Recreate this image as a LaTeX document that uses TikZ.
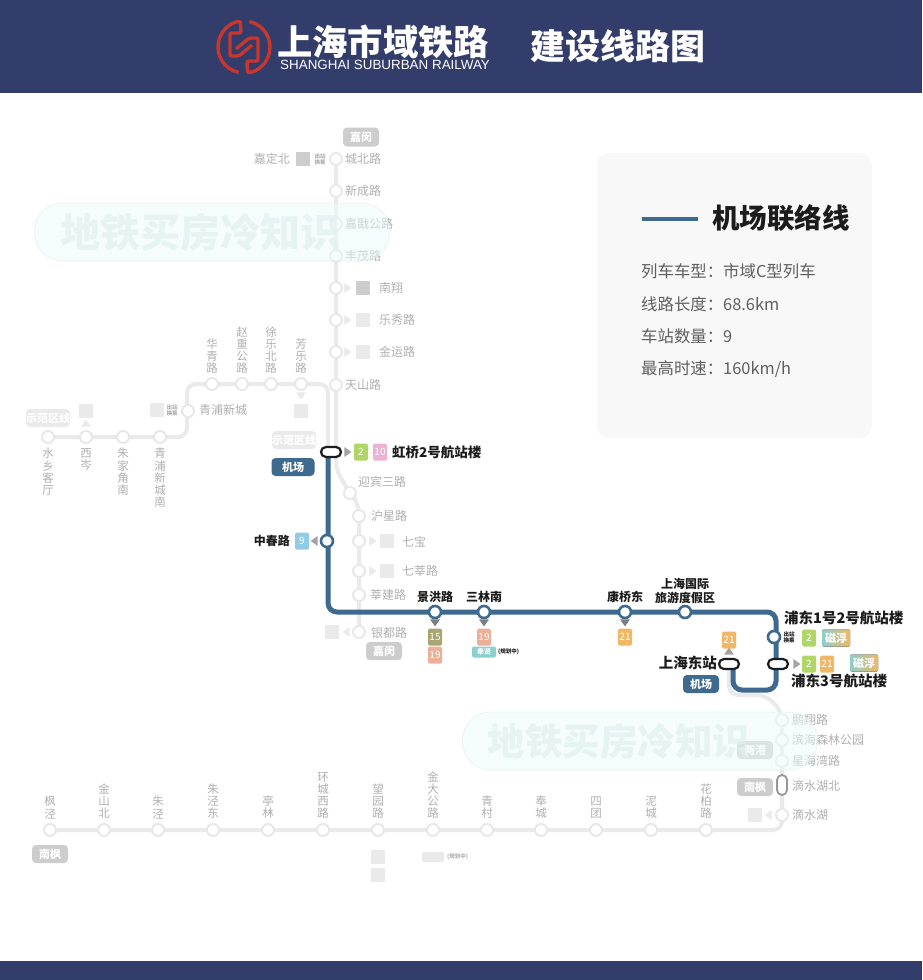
\documentclass[tikz,border=0pt]{standalone}
\usepackage{fontspec}
\setmainfont{Noto Sans CJK SC}
\newfontfamily\latinfont{Liberation Sans}
\usetikzlibrary{arrows.meta,positioning,backgrounds,calc,shapes.geometric}
\definecolor{headernavy}{RGB}{51,61,107}
\definecolor{logored}{RGB}{200,54,46}
\definecolor{airportblue}{RGB}{63,106,144}
\definecolor{railgrey}{RGB}{234,234,234}
\definecolor{ringgrey}{RGB}{232,232,232}
\definecolor{fadedtext}{RGB}{176,176,176}
\definecolor{chipgrey}{RGB}{205,205,205}
\definecolor{chiplight}{RGB}{234,234,234}
\definecolor{panelgrey}{RGB}{248,248,249}
\definecolor{darktext}{RGB}{28,28,28}
\definecolor{infotext}{RGB}{95,95,95}
\definecolor{arrowgrey}{RGB}{125,125,125}
\definecolor{lineii}{RGB}{176,214,104}
\definecolor{linex}{RGB}{236,178,212}
\definecolor{lineix}{RGB}{144,204,232}
\definecolor{linexv}{RGB}{168,166,112}
\definecolor{linexix}{RGB}{236,176,152}
\definecolor{linexxi}{RGB}{240,184,100}
\definecolor{maglevteal}{RGB}{140,208,204}
\definecolor{watercyan}{RGB}{236,250,250}
\definecolor{watertext}{RGB}{226,240,240}
\newcommand{\fsz}[2]{\fontsize{#1}{#2}\selectfont}
\tikzset{
  greyline/.style={line width=4pt, draw=railgrey, rounded corners=9pt},
  blueline/.style={line width=5pt, draw=airportblue, rounded corners=9pt},
  gst/.style={circle, draw=ringgrey, fill=white, line width=2pt, minimum size=12pt, inner sep=0pt},
  bst/.style={circle, draw=airportblue, fill=white, line width=2.6pt, minimum size=12pt, inner sep=0pt},
  pill/.style={rectangle, rounded corners=5pt, draw=darktext, fill=white, line width=2.2pt, minimum width=20pt, minimum height=10pt, inner sep=0pt},
  glab/.style={font=\fsz{12}{14}, text=fadedtext, inner sep=0pt},
  vlab/.style={glab, font=\fsz{11.5}{12.2}, align=center},
  blab/.style={font=\bfseries\fsz{12}{14}, text=darktext, inner sep=0pt, align=center},
  tlab/.style={font=\bfseries\fsz{14.5}{16}, text=darktext, inner sep=0pt},
  chip/.style={rectangle, rounded corners=1.5pt, fill=#1, minimum width=14pt, minimum height=17pt, inner sep=0pt, text=white, font=\fsz{10}{10}},
  sq/.style={rectangle, fill=#1, minimum width=14pt, minimum height=14pt, inner sep=0pt},
  tag/.style={rectangle, rounded corners=4pt, fill=#1, minimum width=36pt, minimum height=18pt, inner sep=0pt, text=white, font=\bfseries\fsz{11}{11}},
  tiny/.style={font=\bfseries\fsz{5.5}{6}, text=#1, inner sep=0pt, align=center},
  tri/.style={isosceles triangle, isosceles triangle apex angle=70, minimum size=7pt, inner sep=0pt, fill=chiplight, shape border rotate=#1},
  trid/.style={tri=#1, fill=arrowgrey},
  infotxt/.style={font=\fsz{16.4}{18}, text=infotext, inner sep=0pt, anchor=west},
  water/.style={rectangle, rounded corners=28pt, draw=railgrey, fill=watercyan, line width=1pt, minimum width=355pt, minimum height=58pt, opacity=0.5},
  watertxt/.style={inner sep=0pt, text=watertext, text opacity=0.75, font=\bfseries\fsz{#1}{#1}},
}
\begin{document}
\begin{tikzpicture}[x=1pt,y=-1pt]
  \useasboundingbox (0,0) rectangle (922,980);
  % header and footer bands
  \fill[headernavy] (0,0) rectangle (922,93);
  \fill[headernavy] (0,961) rectangle (922,980);
  % logo
  \begin{scope}[shift={(244,47)}]
    \foreach \r in {0,180}{
      \begin{scope}[rotate=\r]
        \draw[logored,line width=3.4pt,rounded corners=2pt] (102:26) arc[start angle=102,end angle=262,radius=26] -- (-3,-14) -- (-14,-14) -- (-14,9) -- (-5,9) -- (8,-2);
      \end{scope}
    }
  \end{scope}
  \node[anchor=west,inner sep=0pt,text=white,font=\bfseries\fsz{35.3}{36}] (titlecn) at (277,42) {上海市域铁路};
  \node[anchor=west,inner sep=0pt,text=white,font=\latinfont\fsz{13.4}{14}] (titleen) at (280,65) {SHANGHAI SUBURBAN RAILWAY};
  \node[anchor=west,inner sep=0pt,text=white,font=\bfseries\fsz{35}{35}] (titlemap) at (530,46) {建设线路图};
  % info panel
  \fill[panelgrey,rounded corners=12pt] (597,153) rectangle (872,438);
  \coordinate (legA) at (642,219);
  \coordinate (legB) at (698,219);
  \draw[airportblue,line width=4.5pt] (legA) -- (legB);
  \node[anchor=west,inner sep=0pt,text=darktext,font=\bfseries\fsz{27.5}{28}] (legname) at (712,218) {机场联络线};
  \node[infotxt] (info1) at (641,271) {列车车型：市域C型列车};
  \node[infotxt] (info2) at (641,304) {线路长度：68.6km};
  \node[infotxt] (info3) at (641,336) {车站数量：9};
  \node[infotxt] (info4) at (641,369) {最高时速：160km/h};
  % north trunk
  \foreach \i/\yy/\txt in {1/159/城北路,2/191/新成路,3/224/嘉戬公路,4/256/丰茂路,8/385/天山路}{
    \node[gst] (tr\i) at (336,\yy) {};
    \node[glab,anchor=west] (trl\i) at (345,\yy) {\txt};
  }
  \foreach \i/\yy/\txt/\ln in {5/288/南翔/chipgrey,6/320/乐秀路/railgrey,7/352/金运路/chiplight}{
    \node[gst] (tr\i) at (336,\yy) {};
    \node[tri=0] (trt\i) at (347,\yy) {};
    \node[sq=\ln] (trs\i) at (363,\yy) {};
    \node[glab,anchor=west] (trl\i) at (379,\yy) {\txt};
  }
  \node[tag=chipgrey,minimum height=19pt] (jmtop) at (361,137) {嘉闵};
  \node[glab,anchor=east] (jdn) at (290,159) {嘉定北};
  \node[sq=chipgrey] (jdns) at (303,159) {};
  \node[tiny=fadedtext] (jdnt) at (320,159) {出站\\换乘};
  % south part of the trunk
  \node[gst] (ybs) at (350,493) {};
  \node[glab,anchor=west] at (358,482) {迎宾三路};
  \node[gst] (hx) at (359,516) {};
  \node[glab,anchor=west] at (371,516) {沪星路};
  \node[gst] (qb) at (359,541) {};
  \node[tri=0] at (372,541) {};
  \node[sq=chiplight] at (387,541) {};
  \node[glab,anchor=west] at (402,542) {七宝};
  \node[gst] (qx) at (359,571) {};
  \node[tri=0] at (372,571) {};
  \node[sq=chiplight] at (387,571) {};
  \node[glab,anchor=west] at (402,571) {七莘路};
  \node[gst] (xj) at (359,595) {};
  \node[glab,anchor=west] at (370,595) {莘建路};
  \node[gst] (yd) at (359,632) {};
  \node[tri=180] at (347,632) {};
  \node[sq=chiplight] at (332,632) {};
  \node[glab,anchor=west] at (371,633) {银都路};
  \node[tag=chipgrey] (jmbot) at (384,651) {嘉闵};
  % west branch
  \foreach \i/\xx/\txt in {1/48/水\\乡\\客\\厅,2/86/西\\岑,3/123/朱\\家\\角\\南,4/160/青\\浦\\新\\城\\南}{
    \node[gst] (wb\i) at (\xx,437) {};
    \node[vlab,anchor=north] (wbl\i) at (\xx,448) {\txt};
  }
  \foreach \i/\xx/\txt in {5/212/华\\青\\路,6/242/赵\\重\\公\\路,7/271/徐\\乐\\北\\路,8/301/芳\\乐\\路}{
    \node[gst] (wb\i) at (\xx,384) {};
    \node[vlab,anchor=south] (wbl\i) at (\xx,374) {\txt};
  }
  \node[gst] (qpxc) at (188,411) {};
  \node[glab,anchor=west] at (199,410) {青浦新城};
  \node[sq=chiplight] at (157,410) {};
  \node[tiny=fadedtext] at (172,410) {出站\\换乘};
  \node[tag=chiplight,minimum width=44pt] (sfq) at (48,418) {示范区线};
  \node[sq=chiplight] at (86,411) {};
  \node[tri=90] at (86,424) {};
  \node[tri=-90] at (301,395) {};
  \node[sq=chiplight] at (301,411) {};
  \node[tag=chiplight,minimum width=44pt] (sfq2) at (294,440) {示范区线};
  % south branch
  \foreach \i/\xx/\txt in {1/50/枫\\泾,2/104/金\\山\\北,3/158/朱\\泾,4/213/朱\\泾\\东,5/268/亭\\林,6/323/环\\城\\西\\路,7/378/望\\园\\路,8/433/金\\大\\公\\路,9/487/青\\村,10/541/奉\\城,11/596/四\\团,12/651/泥\\城,13/706/花\\柏\\路}{
    \node[gst] (sb\i) at (\xx,830) {};
    \node[vlab,anchor=south] (sbl\i) at (\xx,819) {\txt};
  }
  \node[tag=chipgrey] (nf) at (50,854) {南枫};
  \node[sq=chiplight] at (378,857) {};
  \node[sq=chiplight] at (378,875) {};
  \node[rectangle,rounded corners=1.5pt,fill=chiplight,minimum width=22pt,minimum height=10pt,inner sep=0pt] at (433,857) {};
  \node[tiny=fadedtext,anchor=west] at (447,857) {(规划中)};
  % east end
  \foreach \i/\yy/\txt in {1/720/鹏翔路,2/740/滨海森林公园,3/761/星海湾路}{
    \node[gst] (eb\i) at (782,\yy) {};
    \node[glab,anchor=west] (ebl\i) at (792,\yy) {\txt};
  }
  \node[rectangle,rounded corners=5pt,draw=arrowgrey!80,fill=white,line width=1.8pt,minimum width=10pt,minimum height=20pt,inner sep=0pt] (dshb) at (782,785) {};
  \node[glab,anchor=west] at (792,786) {滴水湖北};
  \node[gst] (dsh) at (782,815) {};
  \node[glab,anchor=west] at (792,815) {滴水湖};
  \node[tri=180] at (769,815) {};
  \node[sq=chiplight] at (755,815) {};
  \node[tag=chipgrey] (nf2) at (755,787) {南枫};
  \node[tag=chipgrey] (lg) at (755,750) {两港};
  % airport link stations
  \node[pill] (hq) at (331,452) {};
  \node[bst] (zc) at (327,541) {};
  \node[bst] (jh) at (435,612) {};
  \node[bst] (sl) at (484,612) {};
  \node[bst] (kq) at (625,612) {};
  \node[bst] (lyd) at (685,612) {};
  \node[bst] (pd12) at (774,637) {};
  \node[pill] (pd3) at (778,664) {};
  \node[pill] (shd) at (729,664) {};
  % corner points of the lines
  \coordinate (hqcorner) at (328,612);
  \coordinate (pdtop) at (776,612);
  \coordinate (pdbot) at (776,690);
  \coordinate (shdbot) at (733,690);
  \coordinate (shdtop) at (733,664);
  \coordinate (trbend) at (336,470);
  \coordinate (trjoin) at (359,505);
  \coordinate (wbcorner) at (187,437);
  \coordinate (wbtop) at (187,384);
  \coordinate (wbright) at (328,384);
  \coordinate (wbdown) at (328,452);
  \coordinate (gyA) at (729,695);
  \coordinate (gyB) at (766,695);
  \coordinate (gyC) at (782,712);
  \begin{scope}[on background layer]
    \fill[white] (0,0) rectangle (922,980);
    \draw[greyline] (tr1.center) -- (tr8.center) -- (trbend) -- (ybs.center) -- (trjoin) -- (yd.center);
    \draw[greyline] (wb1.center) -- (wbcorner) -- (wbtop) -- (wbright) -- (wbdown);
    \draw[greyline] (shd.center) -- (gyA) -- (gyB) -- (gyC) -- (dsh.center) |- (sb1.center);
    \draw[blueline] (hq.center) ++(-3,0) -- (hqcorner) -- (pdtop) -- (pdbot) -- (shdbot) -- (shdtop);
  \end{scope}
  % airport link labels
  \node[tag=airportblue,minimum width=43pt] (jc1) at (293,467) {机场};
  \node[tri=0,fill=arrowgrey!70] at (347,452) {};
  \node[chip=lineii] at (361,452) {2};
  \node[chip=linex] at (380,452) {10};
  \node[tlab,anchor=west,font=\bfseries\fsz{13.5}{15}] at (392,452) {虹桥2号航站楼};
  \node[blab,anchor=east] at (290,541) {中春路};
  \node[chip=lineix] at (302,541) {9};
  \node[tri=180,fill=arrowgrey!70] at (315,541) {};
  \node[blab] at (435,597) {景洪路};
  \node[blab] at (484,597) {三林南};
  \node[blab] at (625,597) {康桥东};
  \node[blab,font=\bfseries\fsz{12}{14}] at (685,591) {上海国际\\旅游度假区};
  \node[trid=-90] at (435,622) {};
  \node[trid=-90] at (484,622) {};
  \node[trid=-90] at (625,622) {};
  \node[chip=linexv] at (435,637) {15};
  \node[chip=linexix] at (435,655) {19};
  \node[chip=linexix] at (484,637) {19};
  \node[rectangle,rounded corners=2pt,fill=maglevteal,minimum width=24pt,minimum height=11pt,inner sep=0pt,text=white,font=\bfseries\fsz{7}{7}] at (484,652) {奉贤};
  \node[tiny=darktext,anchor=west] at (498,652) {(规划中)};
  \node[chip=linexxi] at (625,637) {21};
  \node[chip=linexxi] at (729,640) {21};
  \node[tri=90,fill=arrowgrey!70] at (729,652) {};
  \node[tlab,anchor=east] at (717,663) {上海东站};
  \node[tag=airportblue] (jc2) at (701,684) {机场};
  \node[tlab,anchor=west] at (784,618) {浦东1号2号航站楼};
  \node[tiny=darktext] at (789,637) {出站\\换乘};
  \node[chip=lineii] at (809,638) {2};
  \node[chip,left color=maglevteal,right color=linexxi,minimum width=28pt,font=\bfseries\fsz{11}{11}] at (836,638) {磁浮};
  \node[tri=0,fill=arrowgrey!70] at (796,664) {};
  \node[chip=lineii] at (809,664) {2};
  \node[chip=linexxi] at (827,664) {21};
  \node[chip,left color=maglevteal,right color=linexxi,minimum width=28pt,font=\bfseries\fsz{11}{11}] at (864,663) {磁浮};
  \node[tlab,anchor=west] at (791,681) {浦东3号航站楼};
  % watermarks
  \node[water] (wmA) at (212,232) {};
  \node[watertxt=40] (wmAt) at (200,232) {地铁买房冷知识};
  \node[water] (wmB) at (640,741) {};
  \node[watertxt=37.5] (wmBt) at (619,741) {地铁买房冷知识};
\end{tikzpicture}
\end{document}
